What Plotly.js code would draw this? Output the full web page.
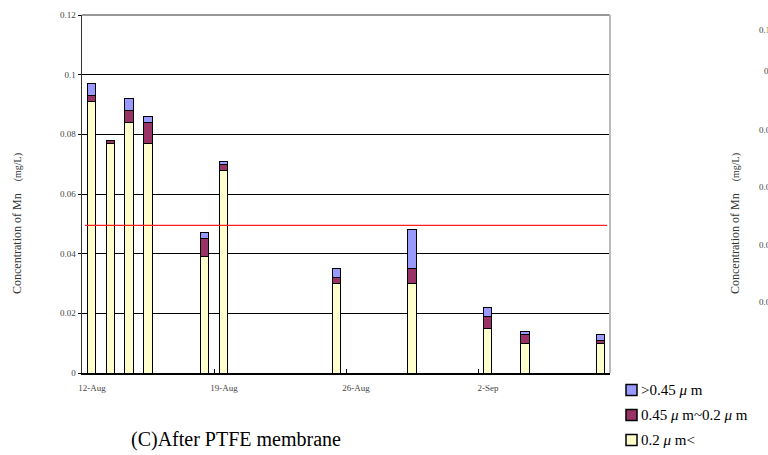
<!DOCTYPE html>
<html>
<head>
<meta charset="utf-8">
<script src="https://cdn.plot.ly/plotly-3.0.1.min.js"></script>
<style>html,body{margin:0;padding:0;background:#fff;}</style>
</head>
<body>
<div id="chart" style="width:768px;height:455px;"></div>
<script>
// Sampling days and Mn fractions (mg/L) after the PTFE membrane
const sampleDates = ['2009-08-12', '2009-08-13', '2009-08-14', '2009-08-15', '2009-08-18', '2009-08-19',
                     '2009-08-25', '2009-08-29', '2009-09-02', '2009-09-04', '2009-09-08'];
const fineMn   = [0.091, 0.077, 0.084, 0.077, 0.039, 0.068, 0.030, 0.030, 0.015, 0.010, 0.010]; // 0.2 µm<
const middleMn = [0.002, 0.001, 0.004, 0.007, 0.006, 0.002, 0.002, 0.005, 0.004, 0.003, 0.001]; // 0.45~0.2 µm
const coarseMn = [0.004, 0.000, 0.004, 0.002, 0.002, 0.001, 0.003, 0.013, 0.003, 0.001, 0.002]; // >0.45 µm
const seriesNames = ['0.2 <i>μ</i> m&lt;', '0.45 <i>μ</i> m~0.2 <i>μ</i> m', '&gt;0.45 <i>μ</i> m'];
const seriesColors = ['#FFFFCC', '#993366', '#9999FF'];
const dateTicks = ['2009-08-12', '2009-08-19', '2009-08-26', '2009-09-02'];
const dateRange = ['2009-08-12', '2009-09-09'];
const yTicks = [0, 0.02, 0.04, 0.06, 0.08, 0.1, 0.12];
const mnLimit = 0.0495;
const panelTitle = '(C)After PTFE membrane';
const yTitle = 'Concentration of Mn　<span style="font-size:10px">(mg/L)</span>';

// plot box in pixels, used to place paper-anchored decorations
const L = 82, R = 610, T = 15, B = 373;
const px = x => (x - L) / (R - L);
const py = y => (B - y) / (B - T);

const serif = 'Liberation Serif, Times New Roman, serif';
const DAY = 86400000;

const stacks = [fineMn, middleMn, coarseMn];
const traces = stacks.map((vals, i) => ({
  type: 'bar',
  name: seriesNames[i],
  x: sampleDates,
  y: vals,
  xperiod: DAY,
  xperiodalignment: 'middle',
  width: 0.44 * DAY,
  marker: {color: seriesColors[i], line: {color: '#000', width: 1}},
  showlegend: false,
  hoverinfo: 'x+y+name'
}));

const shapes = [
  // guideline value
  {type: 'line', xref: 'paper', yref: 'y', x0: px(85), x1: px(607), y0: mnLimit, y1: mnLimit,
   line: {color: '#FF2020', width: 1.3}},
  // top frame edge
  {type: 'line', xref: 'paper', yref: 'paper', x0: 0, x1: 1, y0: 1, y1: 1,
   line: {color: '#333', width: 1.2}},
  // right frame edge
  {type: 'line', xref: 'paper', yref: 'paper', x0: 1, x1: 1, y0: 0, y1: 1,
   line: {color: '#BBBBBB', width: 2}}
];

const annotations = [
  {xref: 'paper', yref: 'paper', x: px(17), y: py(224), text: yTitle, textangle: -90,
   showarrow: false, xanchor: 'center', yanchor: 'middle',
   font: {family: serif, size: 12, color: '#333'}},
  {xref: 'paper', yref: 'paper', x: px(236), y: py(440), text: panelTitle,
   showarrow: false, xanchor: 'center', yanchor: 'middle',
   font: {family: serif, size: 20, color: '#000'}}
];

// legend: swatch + label per series, top entry first
const legendRows = [390, 415, 440];
[2, 1, 0].forEach((s, k) => {
  const yc = legendRows[k];
  shapes.push({type: 'rect', xref: 'paper', yref: 'paper',
    x0: px(626), x1: px(637), y0: py(yc + 5.5), y1: py(yc - 5.5),
    fillcolor: seriesColors[s], line: {color: '#000', width: 1.5}});
  annotations.push({xref: 'paper', yref: 'paper', x: px(639), y: py(yc), text: seriesNames[s],
    showarrow: false, xanchor: 'left', yanchor: 'middle',
    font: {family: serif, size: 15, color: '#000'}});
});

// neighbouring panel's axis, partly visible at the right edge
const sideLabels = [['0.12', 30, 757], ['0.1', 71, 762], ['0.08', 130, 757], ['0.06', 187, 757],
                    ['0.04', 245, 757], ['0.02', 302, 757]];
sideLabels.forEach(([t, y, x]) => annotations.push({
  xref: 'paper', yref: 'paper', x: px(x), y: py(y), text: t, showarrow: false,
  xanchor: 'left', yanchor: 'middle', font: {family: serif, size: 9, color: '#444'}}));
annotations.push({xref: 'paper', yref: 'paper', x: px(735), y: py(224), text: yTitle, textangle: -90,
  showarrow: false, xanchor: 'center', yanchor: 'middle',
  font: {family: serif, size: 12, color: '#333'}});

const layout = {
  width: 768, height: 455,
  margin: {l: L, r: 768 - R, t: T, b: 455 - B},
  paper_bgcolor: '#fff', plot_bgcolor: '#fff',
  barmode: 'stack',
  showlegend: false,
  font: {family: serif, size: 9, color: '#444'},
  xaxis: {
    type: 'date', range: dateRange,
    tickvals: dateTicks, tickformat: '%-d-%b',
    ticks: 'inside', ticklen: 4, tickcolor: '#000', tickwidth: 1,
    ticklabelshift: 10, ticklabelstandoff: 6,
    showline: true, linecolor: '#000', linewidth: 1.5,
    showgrid: false, zeroline: false,
    tickfont: {family: serif, size: 9, color: '#444'}
  },
  yaxis: {
    range: [0, 0.12], tickvals: yTicks,
    ticks: 'outside', ticklen: 3, tickcolor: '#000',
    showline: true, linecolor: '#333', linewidth: 1.5,
    showgrid: true, gridcolor: '#000', gridwidth: 1,
    zeroline: false,
    tickfont: {family: serif, size: 9, color: '#444'}
  },
  shapes: shapes,
  annotations: annotations
};

Plotly.newPlot('chart', traces, layout, {displayModeBar: false, staticPlot: true});
</script>
</body>
</html>
